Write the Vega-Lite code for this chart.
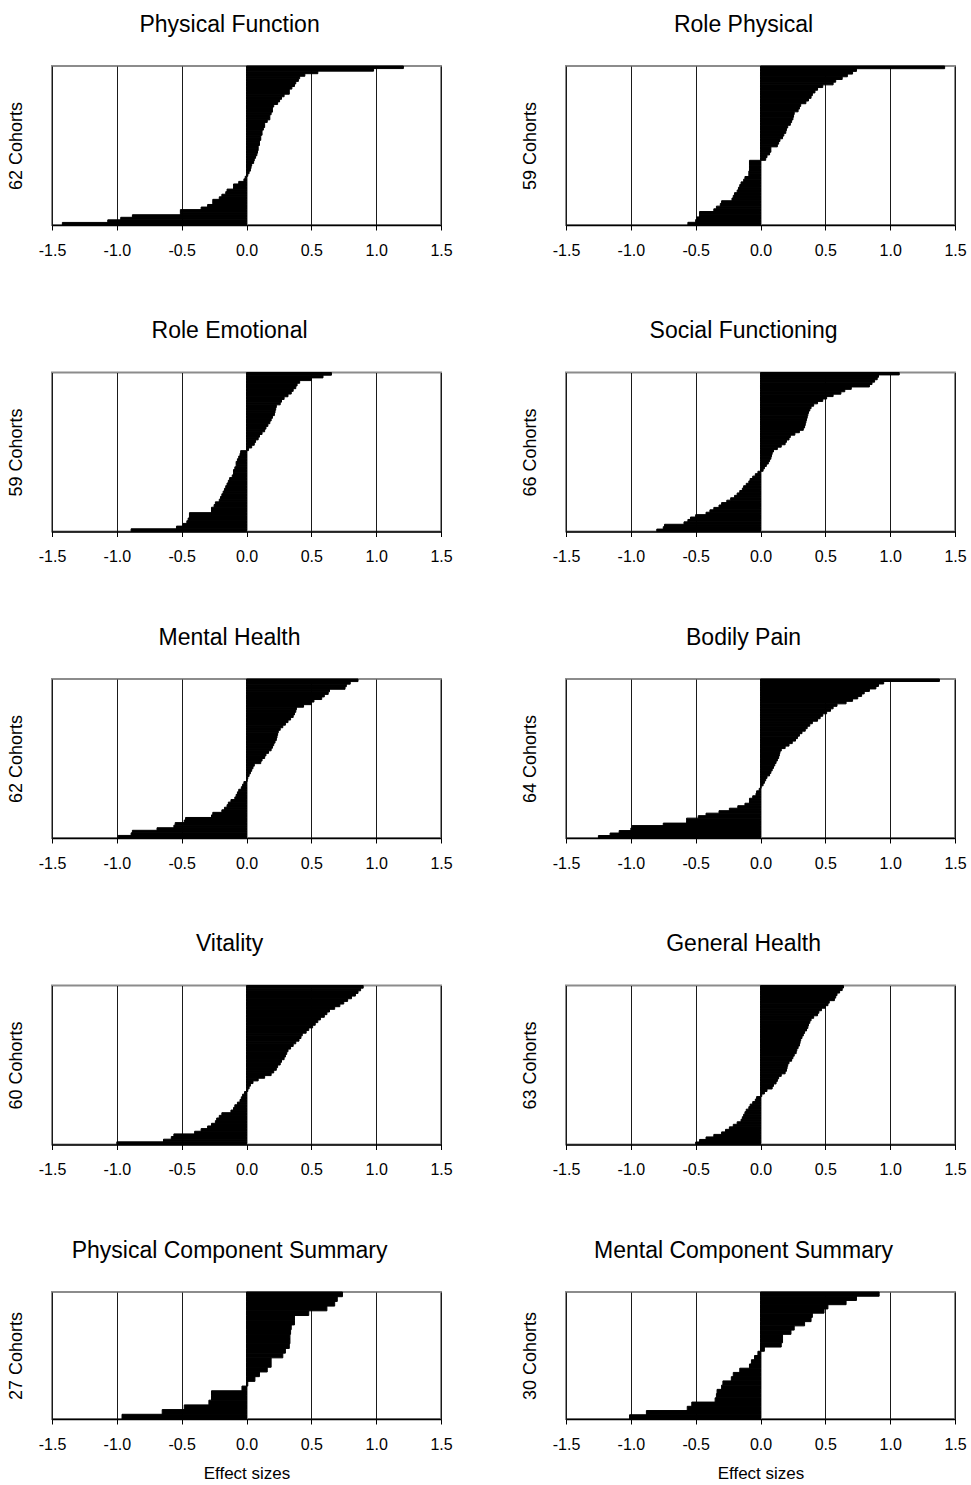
{
"$schema":"https://vega.github.io/schema/vega-lite/v6.json",
"background":"white",
"padding":{"left":6,"top":12,"right":5,"bottom":5},
"columns":2,
"bounds":"flush",
"spacing":{"row":147.5,"column":125},
"datasets":{"sf36":[
{"p":"PF","r":1,"v":-1.42},{"p":"PF","r":2,"v":-1.07},{"p":"PF","r":3,"v":-0.97},{"p":"PF","r":4,"v":-0.88},{"p":"PF","r":5,"v":-0.51},{"p":"PF","r":6,"v":-0.51},{"p":"PF","r":7,"v":-0.35},{"p":"PF","r":8,"v":-0.30},{"p":"PF","r":9,"v":-0.26},{"p":"PF","r":10,"v":-0.26},{"p":"PF","r":11,"v":-0.21},{"p":"PF","r":12,"v":-0.19},{"p":"PF","r":13,"v":-0.16},{"p":"PF","r":14,"v":-0.15},{"p":"PF","r":15,"v":-0.10},{"p":"PF","r":16,"v":-0.10},{"p":"PF","r":17,"v":-0.06},{"p":"PF","r":18,"v":-0.02},{"p":"PF","r":19,"v":-0.01},{"p":"PF","r":20,"v":0.01},{"p":"PF","r":21,"v":0.02},{"p":"PF","r":22,"v":0.03},{"p":"PF","r":23,"v":0.035},{"p":"PF","r":24,"v":0.04},{"p":"PF","r":25,"v":0.055},{"p":"PF","r":26,"v":0.06},{"p":"PF","r":27,"v":0.07},{"p":"PF","r":28,"v":0.08},{"p":"PF","r":29,"v":0.085},{"p":"PF","r":30,"v":0.09},{"p":"PF","r":31,"v":0.09},{"p":"PF","r":32,"v":0.10},{"p":"PF","r":33,"v":0.10},{"p":"PF","r":34,"v":0.11},{"p":"PF","r":35,"v":0.11},{"p":"PF","r":36,"v":0.12},{"p":"PF","r":37,"v":0.12},{"p":"PF","r":38,"v":0.13},{"p":"PF","r":39,"v":0.14},{"p":"PF","r":40,"v":0.14},{"p":"PF","r":41,"v":0.16},{"p":"PF","r":42,"v":0.18},{"p":"PF","r":43,"v":0.18},{"p":"PF","r":44,"v":0.19},{"p":"PF","r":45,"v":0.20},{"p":"PF","r":46,"v":0.20},{"p":"PF","r":47,"v":0.21},{"p":"PF","r":48,"v":0.24},{"p":"PF","r":49,"v":0.255},{"p":"PF","r":50,"v":0.27},{"p":"PF","r":51,"v":0.29},{"p":"PF","r":52,"v":0.33},{"p":"PF","r":53,"v":0.33},{"p":"PF","r":54,"v":0.35},{"p":"PF","r":55,"v":0.37},{"p":"PF","r":56,"v":0.38},{"p":"PF","r":57,"v":0.40},{"p":"PF","r":58,"v":0.41},{"p":"PF","r":59,"v":0.45},{"p":"PF","r":60,"v":0.55},{"p":"PF","r":61,"v":0.98},{"p":"PF","r":62,"v":1.21},
{"p":"RP","r":1,"v":-0.56},{"p":"RP","r":2,"v":-0.50},{"p":"RP","r":3,"v":-0.49},{"p":"RP","r":4,"v":-0.47},{"p":"RP","r":5,"v":-0.47},{"p":"RP","r":6,"v":-0.36},{"p":"RP","r":7,"v":-0.34},{"p":"RP","r":8,"v":-0.31},{"p":"RP","r":9,"v":-0.30},{"p":"RP","r":10,"v":-0.22},{"p":"RP","r":11,"v":-0.21},{"p":"RP","r":12,"v":-0.20},{"p":"RP","r":13,"v":-0.18},{"p":"RP","r":14,"v":-0.17},{"p":"RP","r":15,"v":-0.16},{"p":"RP","r":16,"v":-0.15},{"p":"RP","r":17,"v":-0.13},{"p":"RP","r":18,"v":-0.12},{"p":"RP","r":19,"v":-0.09},{"p":"RP","r":20,"v":-0.09},{"p":"RP","r":21,"v":-0.085},{"p":"RP","r":22,"v":-0.085},{"p":"RP","r":23,"v":-0.085},{"p":"RP","r":24,"v":-0.085},{"p":"RP","r":25,"v":0.04},{"p":"RP","r":26,"v":0.05},{"p":"RP","r":27,"v":0.07},{"p":"RP","r":28,"v":0.08},{"p":"RP","r":29,"v":0.08},{"p":"RP","r":30,"v":0.13},{"p":"RP","r":31,"v":0.14},{"p":"RP","r":32,"v":0.15},{"p":"RP","r":33,"v":0.17},{"p":"RP","r":34,"v":0.18},{"p":"RP","r":35,"v":0.195},{"p":"RP","r":36,"v":0.20},{"p":"RP","r":37,"v":0.21},{"p":"RP","r":38,"v":0.23},{"p":"RP","r":39,"v":0.24},{"p":"RP","r":40,"v":0.25},{"p":"RP","r":41,"v":0.255},{"p":"RP","r":42,"v":0.26},{"p":"RP","r":43,"v":0.29},{"p":"RP","r":44,"v":0.30},{"p":"RP","r":45,"v":0.31},{"p":"RP","r":46,"v":0.35},{"p":"RP","r":47,"v":0.37},{"p":"RP","r":48,"v":0.39},{"p":"RP","r":49,"v":0.40},{"p":"RP","r":50,"v":0.42},{"p":"RP","r":51,"v":0.44},{"p":"RP","r":52,"v":0.48},{"p":"RP","r":53,"v":0.56},{"p":"RP","r":54,"v":0.58},{"p":"RP","r":55,"v":0.63},{"p":"RP","r":56,"v":0.67},{"p":"RP","r":57,"v":0.71},{"p":"RP","r":58,"v":0.74},{"p":"RP","r":59,"v":1.42},
{"p":"RE","r":1,"v":-0.89},{"p":"RE","r":2,"v":-0.54},{"p":"RE","r":3,"v":-0.49},{"p":"RE","r":4,"v":-0.46},{"p":"RE","r":5,"v":-0.45},{"p":"RE","r":6,"v":-0.44},{"p":"RE","r":7,"v":-0.44},{"p":"RE","r":8,"v":-0.27},{"p":"RE","r":9,"v":-0.27},{"p":"RE","r":10,"v":-0.25},{"p":"RE","r":11,"v":-0.24},{"p":"RE","r":12,"v":-0.21},{"p":"RE","r":13,"v":-0.20},{"p":"RE","r":14,"v":-0.19},{"p":"RE","r":15,"v":-0.18},{"p":"RE","r":16,"v":-0.17},{"p":"RE","r":17,"v":-0.16},{"p":"RE","r":18,"v":-0.15},{"p":"RE","r":19,"v":-0.14},{"p":"RE","r":20,"v":-0.13},{"p":"RE","r":21,"v":-0.11},{"p":"RE","r":22,"v":-0.10},{"p":"RE","r":23,"v":-0.10},{"p":"RE","r":24,"v":-0.09},{"p":"RE","r":25,"v":-0.08},{"p":"RE","r":26,"v":-0.08},{"p":"RE","r":27,"v":-0.07},{"p":"RE","r":28,"v":-0.06},{"p":"RE","r":29,"v":-0.05},{"p":"RE","r":30,"v":-0.045},{"p":"RE","r":31,"v":0.015},{"p":"RE","r":32,"v":0.04},{"p":"RE","r":33,"v":0.06},{"p":"RE","r":34,"v":0.07},{"p":"RE","r":35,"v":0.09},{"p":"RE","r":36,"v":0.10},{"p":"RE","r":37,"v":0.12},{"p":"RE","r":38,"v":0.14},{"p":"RE","r":39,"v":0.15},{"p":"RE","r":40,"v":0.165},{"p":"RE","r":41,"v":0.18},{"p":"RE","r":42,"v":0.19},{"p":"RE","r":43,"v":0.20},{"p":"RE","r":44,"v":0.215},{"p":"RE","r":45,"v":0.22},{"p":"RE","r":46,"v":0.225},{"p":"RE","r":47,"v":0.23},{"p":"RE","r":48,"v":0.26},{"p":"RE","r":49,"v":0.27},{"p":"RE","r":50,"v":0.29},{"p":"RE","r":51,"v":0.32},{"p":"RE","r":52,"v":0.345},{"p":"RE","r":53,"v":0.36},{"p":"RE","r":54,"v":0.38},{"p":"RE","r":55,"v":0.39},{"p":"RE","r":56,"v":0.41},{"p":"RE","r":57,"v":0.50},{"p":"RE","r":58,"v":0.59},{"p":"RE","r":59,"v":0.655},
{"p":"SF","r":1,"v":-0.80},{"p":"SF","r":2,"v":-0.75},{"p":"SF","r":3,"v":-0.74},{"p":"SF","r":4,"v":-0.59},{"p":"SF","r":5,"v":-0.56},{"p":"SF","r":6,"v":-0.54},{"p":"SF","r":7,"v":-0.50},{"p":"SF","r":8,"v":-0.42},{"p":"SF","r":9,"v":-0.39},{"p":"SF","r":10,"v":-0.36},{"p":"SF","r":11,"v":-0.32},{"p":"SF","r":12,"v":-0.30},{"p":"SF","r":13,"v":-0.26},{"p":"SF","r":14,"v":-0.23},{"p":"SF","r":15,"v":-0.20},{"p":"SF","r":16,"v":-0.18},{"p":"SF","r":17,"v":-0.16},{"p":"SF","r":18,"v":-0.14},{"p":"SF","r":19,"v":-0.13},{"p":"SF","r":20,"v":-0.11},{"p":"SF","r":21,"v":-0.09},{"p":"SF","r":22,"v":-0.08},{"p":"SF","r":23,"v":-0.06},{"p":"SF","r":24,"v":-0.04},{"p":"SF","r":25,"v":-0.02},{"p":"SF","r":26,"v":0.02},{"p":"SF","r":27,"v":0.03},{"p":"SF","r":28,"v":0.045},{"p":"SF","r":29,"v":0.06},{"p":"SF","r":30,"v":0.07},{"p":"SF","r":31,"v":0.08},{"p":"SF","r":32,"v":0.085},{"p":"SF","r":33,"v":0.09},{"p":"SF","r":34,"v":0.10},{"p":"SF","r":35,"v":0.13},{"p":"SF","r":36,"v":0.16},{"p":"SF","r":37,"v":0.19},{"p":"SF","r":38,"v":0.20},{"p":"SF","r":39,"v":0.22},{"p":"SF","r":40,"v":0.23},{"p":"SF","r":41,"v":0.265},{"p":"SF","r":42,"v":0.30},{"p":"SF","r":43,"v":0.33},{"p":"SF","r":44,"v":0.34},{"p":"SF","r":45,"v":0.345},{"p":"SF","r":46,"v":0.35},{"p":"SF","r":47,"v":0.355},{"p":"SF","r":48,"v":0.36},{"p":"SF","r":49,"v":0.365},{"p":"SF","r":50,"v":0.37},{"p":"SF","r":51,"v":0.38},{"p":"SF","r":52,"v":0.39},{"p":"SF","r":53,"v":0.41},{"p":"SF","r":54,"v":0.44},{"p":"SF","r":55,"v":0.48},{"p":"SF","r":56,"v":0.51},{"p":"SF","r":57,"v":0.56},{"p":"SF","r":58,"v":0.62},{"p":"SF","r":59,"v":0.65},{"p":"SF","r":60,"v":0.70},{"p":"SF","r":61,"v":0.84},{"p":"SF","r":62,"v":0.86},{"p":"SF","r":63,"v":0.88},{"p":"SF","r":64,"v":0.90},{"p":"SF","r":65,"v":0.91},{"p":"SF","r":66,"v":1.07},
{"p":"MH","r":1,"v":-0.99},{"p":"MH","r":2,"v":-0.89},{"p":"MH","r":3,"v":-0.88},{"p":"MH","r":4,"v":-0.69},{"p":"MH","r":5,"v":-0.56},{"p":"MH","r":6,"v":-0.55},{"p":"MH","r":7,"v":-0.48},{"p":"MH","r":8,"v":-0.47},{"p":"MH","r":9,"v":-0.27},{"p":"MH","r":10,"v":-0.26},{"p":"MH","r":11,"v":-0.19},{"p":"MH","r":12,"v":-0.17},{"p":"MH","r":13,"v":-0.15},{"p":"MH","r":14,"v":-0.14},{"p":"MH","r":15,"v":-0.12},{"p":"MH","r":16,"v":-0.09},{"p":"MH","r":17,"v":-0.08},{"p":"MH","r":18,"v":-0.07},{"p":"MH","r":19,"v":-0.06},{"p":"MH","r":20,"v":-0.04},{"p":"MH","r":21,"v":-0.03},{"p":"MH","r":22,"v":-0.02},{"p":"MH","r":23,"v":0.005},{"p":"MH","r":24,"v":0.01},{"p":"MH","r":25,"v":0.02},{"p":"MH","r":26,"v":0.03},{"p":"MH","r":27,"v":0.04},{"p":"MH","r":28,"v":0.05},{"p":"MH","r":29,"v":0.06},{"p":"MH","r":30,"v":0.11},{"p":"MH","r":31,"v":0.12},{"p":"MH","r":32,"v":0.14},{"p":"MH","r":33,"v":0.15},{"p":"MH","r":34,"v":0.17},{"p":"MH","r":35,"v":0.19},{"p":"MH","r":36,"v":0.20},{"p":"MH","r":37,"v":0.21},{"p":"MH","r":38,"v":0.22},{"p":"MH","r":39,"v":0.23},{"p":"MH","r":40,"v":0.235},{"p":"MH","r":41,"v":0.24},{"p":"MH","r":42,"v":0.245},{"p":"MH","r":43,"v":0.26},{"p":"MH","r":44,"v":0.28},{"p":"MH","r":45,"v":0.30},{"p":"MH","r":46,"v":0.32},{"p":"MH","r":47,"v":0.34},{"p":"MH","r":48,"v":0.36},{"p":"MH","r":49,"v":0.37},{"p":"MH","r":50,"v":0.38},{"p":"MH","r":51,"v":0.385},{"p":"MH","r":52,"v":0.44},{"p":"MH","r":53,"v":0.50},{"p":"MH","r":54,"v":0.52},{"p":"MH","r":55,"v":0.58},{"p":"MH","r":56,"v":0.60},{"p":"MH","r":57,"v":0.63},{"p":"MH","r":58,"v":0.64},{"p":"MH","r":59,"v":0.76},{"p":"MH","r":60,"v":0.77},{"p":"MH","r":61,"v":0.80},{"p":"MH","r":62,"v":0.86},
{"p":"BP","r":1,"v":-1.25},{"p":"BP","r":2,"v":-1.16},{"p":"BP","r":3,"v":-1.09},{"p":"BP","r":4,"v":-1.00},{"p":"BP","r":5,"v":-0.99},{"p":"BP","r":6,"v":-0.75},{"p":"BP","r":7,"v":-0.57},{"p":"BP","r":8,"v":-0.57},{"p":"BP","r":9,"v":-0.48},{"p":"BP","r":10,"v":-0.42},{"p":"BP","r":11,"v":-0.32},{"p":"BP","r":12,"v":-0.24},{"p":"BP","r":13,"v":-0.175},{"p":"BP","r":14,"v":-0.12},{"p":"BP","r":15,"v":-0.085},{"p":"BP","r":16,"v":-0.085},{"p":"BP","r":17,"v":-0.06},{"p":"BP","r":18,"v":-0.035},{"p":"BP","r":19,"v":-0.03},{"p":"BP","r":20,"v":-0.01},{"p":"BP","r":21,"v":0.005},{"p":"BP","r":22,"v":0.02},{"p":"BP","r":23,"v":0.03},{"p":"BP","r":24,"v":0.04},{"p":"BP","r":25,"v":0.05},{"p":"BP","r":26,"v":0.07},{"p":"BP","r":27,"v":0.08},{"p":"BP","r":28,"v":0.09},{"p":"BP","r":29,"v":0.10},{"p":"BP","r":30,"v":0.11},{"p":"BP","r":31,"v":0.12},{"p":"BP","r":32,"v":0.13},{"p":"BP","r":33,"v":0.14},{"p":"BP","r":34,"v":0.145},{"p":"BP","r":35,"v":0.15},{"p":"BP","r":36,"v":0.16},{"p":"BP","r":37,"v":0.19},{"p":"BP","r":38,"v":0.22},{"p":"BP","r":39,"v":0.245},{"p":"BP","r":40,"v":0.27},{"p":"BP","r":41,"v":0.285},{"p":"BP","r":42,"v":0.30},{"p":"BP","r":43,"v":0.32},{"p":"BP","r":44,"v":0.345},{"p":"BP","r":45,"v":0.36},{"p":"BP","r":46,"v":0.38},{"p":"BP","r":47,"v":0.40},{"p":"BP","r":48,"v":0.44},{"p":"BP","r":49,"v":0.46},{"p":"BP","r":50,"v":0.48},{"p":"BP","r":51,"v":0.51},{"p":"BP","r":52,"v":0.54},{"p":"BP","r":53,"v":0.56},{"p":"BP","r":54,"v":0.59},{"p":"BP","r":55,"v":0.66},{"p":"BP","r":56,"v":0.71},{"p":"BP","r":57,"v":0.75},{"p":"BP","r":58,"v":0.78},{"p":"BP","r":59,"v":0.80},{"p":"BP","r":60,"v":0.84},{"p":"BP","r":61,"v":0.89},{"p":"BP","r":62,"v":0.91},{"p":"BP","r":63,"v":0.95},{"p":"BP","r":64,"v":1.38},
{"p":"VT","r":1,"v":-1.00},{"p":"VT","r":2,"v":-0.64},{"p":"VT","r":3,"v":-0.58},{"p":"VT","r":4,"v":-0.56},{"p":"VT","r":5,"v":-0.40},{"p":"VT","r":6,"v":-0.35},{"p":"VT","r":7,"v":-0.30},{"p":"VT","r":8,"v":-0.27},{"p":"VT","r":9,"v":-0.24},{"p":"VT","r":10,"v":-0.23},{"p":"VT","r":11,"v":-0.21},{"p":"VT","r":12,"v":-0.19},{"p":"VT","r":13,"v":-0.12},{"p":"VT","r":14,"v":-0.10},{"p":"VT","r":15,"v":-0.09},{"p":"VT","r":16,"v":-0.07},{"p":"VT","r":17,"v":-0.05},{"p":"VT","r":18,"v":-0.04},{"p":"VT","r":19,"v":-0.03},{"p":"VT","r":20,"v":-0.015},{"p":"VT","r":21,"v":0.01},{"p":"VT","r":22,"v":0.02},{"p":"VT","r":23,"v":0.03},{"p":"VT","r":24,"v":0.05},{"p":"VT","r":25,"v":0.09},{"p":"VT","r":26,"v":0.14},{"p":"VT","r":27,"v":0.19},{"p":"VT","r":28,"v":0.21},{"p":"VT","r":29,"v":0.23},{"p":"VT","r":30,"v":0.24},{"p":"VT","r":31,"v":0.26},{"p":"VT","r":32,"v":0.27},{"p":"VT","r":33,"v":0.29},{"p":"VT","r":34,"v":0.30},{"p":"VT","r":35,"v":0.31},{"p":"VT","r":36,"v":0.32},{"p":"VT","r":37,"v":0.34},{"p":"VT","r":38,"v":0.36},{"p":"VT","r":39,"v":0.38},{"p":"VT","r":40,"v":0.405},{"p":"VT","r":41,"v":0.42},{"p":"VT","r":42,"v":0.43},{"p":"VT","r":43,"v":0.46},{"p":"VT","r":44,"v":0.48},{"p":"VT","r":45,"v":0.51},{"p":"VT","r":46,"v":0.53},{"p":"VT","r":47,"v":0.55},{"p":"VT","r":48,"v":0.57},{"p":"VT","r":49,"v":0.60},{"p":"VT","r":50,"v":0.62},{"p":"VT","r":51,"v":0.64},{"p":"VT","r":52,"v":0.68},{"p":"VT","r":53,"v":0.72},{"p":"VT","r":54,"v":0.75},{"p":"VT","r":55,"v":0.78},{"p":"VT","r":56,"v":0.81},{"p":"VT","r":57,"v":0.84},{"p":"VT","r":58,"v":0.86},{"p":"VT","r":59,"v":0.88},{"p":"VT","r":60,"v":0.90},
{"p":"GH","r":1,"v":-0.50},{"p":"GH","r":2,"v":-0.47},{"p":"GH","r":3,"v":-0.42},{"p":"GH","r":4,"v":-0.36},{"p":"GH","r":5,"v":-0.30},{"p":"GH","r":6,"v":-0.27},{"p":"GH","r":7,"v":-0.24},{"p":"GH","r":8,"v":-0.21},{"p":"GH","r":9,"v":-0.18},{"p":"GH","r":10,"v":-0.15},{"p":"GH","r":11,"v":-0.14},{"p":"GH","r":12,"v":-0.13},{"p":"GH","r":13,"v":-0.12},{"p":"GH","r":14,"v":-0.11},{"p":"GH","r":15,"v":-0.09},{"p":"GH","r":16,"v":-0.08},{"p":"GH","r":17,"v":-0.06},{"p":"GH","r":18,"v":-0.04},{"p":"GH","r":19,"v":-0.03},{"p":"GH","r":20,"v":0.01},{"p":"GH","r":21,"v":0.03},{"p":"GH","r":22,"v":0.05},{"p":"GH","r":23,"v":0.09},{"p":"GH","r":24,"v":0.10},{"p":"GH","r":25,"v":0.12},{"p":"GH","r":26,"v":0.13},{"p":"GH","r":27,"v":0.14},{"p":"GH","r":28,"v":0.16},{"p":"GH","r":29,"v":0.19},{"p":"GH","r":30,"v":0.20},{"p":"GH","r":31,"v":0.205},{"p":"GH","r":32,"v":0.21},{"p":"GH","r":33,"v":0.22},{"p":"GH","r":34,"v":0.24},{"p":"GH","r":35,"v":0.25},{"p":"GH","r":36,"v":0.26},{"p":"GH","r":37,"v":0.275},{"p":"GH","r":38,"v":0.28},{"p":"GH","r":39,"v":0.29},{"p":"GH","r":40,"v":0.30},{"p":"GH","r":41,"v":0.305},{"p":"GH","r":42,"v":0.31},{"p":"GH","r":43,"v":0.32},{"p":"GH","r":44,"v":0.33},{"p":"GH","r":45,"v":0.34},{"p":"GH","r":46,"v":0.355},{"p":"GH","r":47,"v":0.365},{"p":"GH","r":48,"v":0.37},{"p":"GH","r":49,"v":0.38},{"p":"GH","r":50,"v":0.39},{"p":"GH","r":51,"v":0.41},{"p":"GH","r":52,"v":0.44},{"p":"GH","r":53,"v":0.45},{"p":"GH","r":54,"v":0.47},{"p":"GH","r":55,"v":0.50},{"p":"GH","r":56,"v":0.52},{"p":"GH","r":57,"v":0.53},{"p":"GH","r":58,"v":0.57},{"p":"GH","r":59,"v":0.58},{"p":"GH","r":60,"v":0.59},{"p":"GH","r":61,"v":0.61},{"p":"GH","r":62,"v":0.63},{"p":"GH","r":63,"v":0.64},
{"p":"PCS","r":1,"v":-0.96},{"p":"PCS","r":2,"v":-0.65},{"p":"PCS","r":3,"v":-0.48},{"p":"PCS","r":4,"v":-0.29},{"p":"PCS","r":5,"v":-0.27},{"p":"PCS","r":6,"v":-0.27},{"p":"PCS","r":7,"v":-0.035},{"p":"PCS","r":8,"v":0.01},{"p":"PCS","r":9,"v":0.065},{"p":"PCS","r":10,"v":0.10},{"p":"PCS","r":11,"v":0.16},{"p":"PCS","r":12,"v":0.19},{"p":"PCS","r":13,"v":0.19},{"p":"PCS","r":14,"v":0.28},{"p":"PCS","r":15,"v":0.30},{"p":"PCS","r":16,"v":0.33},{"p":"PCS","r":17,"v":0.335},{"p":"PCS","r":18,"v":0.335},{"p":"PCS","r":19,"v":0.34},{"p":"PCS","r":20,"v":0.345},{"p":"PCS","r":21,"v":0.37},{"p":"PCS","r":22,"v":0.37},{"p":"PCS","r":23,"v":0.48},{"p":"PCS","r":24,"v":0.62},{"p":"PCS","r":25,"v":0.68},{"p":"PCS","r":26,"v":0.70},{"p":"PCS","r":27,"v":0.74},
{"p":"MCS","r":1,"v":-1.01},{"p":"MCS","r":2,"v":-0.88},{"p":"MCS","r":3,"v":-0.565},{"p":"MCS","r":4,"v":-0.53},{"p":"MCS","r":5,"v":-0.35},{"p":"MCS","r":6,"v":-0.34},{"p":"MCS","r":7,"v":-0.335},{"p":"MCS","r":8,"v":-0.30},{"p":"MCS","r":9,"v":-0.29},{"p":"MCS","r":10,"v":-0.225},{"p":"MCS","r":11,"v":-0.21},{"p":"MCS","r":12,"v":-0.16},{"p":"MCS","r":13,"v":-0.085},{"p":"MCS","r":14,"v":-0.07},{"p":"MCS","r":15,"v":-0.046},{"p":"MCS","r":16,"v":-0.02},{"p":"MCS","r":17,"v":0.03},{"p":"MCS","r":18,"v":0.16},{"p":"MCS","r":19,"v":0.17},{"p":"MCS","r":20,"v":0.17},{"p":"MCS","r":21,"v":0.235},{"p":"MCS","r":22,"v":0.26},{"p":"MCS","r":23,"v":0.34},{"p":"MCS","r":24,"v":0.39},{"p":"MCS","r":25,"v":0.40},{"p":"MCS","r":26,"v":0.49},{"p":"MCS","r":27,"v":0.52},{"p":"MCS","r":28,"v":0.66},{"p":"MCS","r":29,"v":0.74},{"p":"MCS","r":30,"v":0.915}
]},
"data":{"name":"sf36"},
"concat":[
{"title":"Physical Function","width":389,"height":159,"transform":[{"filter":"datum.p==='PF'"}],"mark":{"type":"bar","color":"#000","stroke":"#000","strokeWidth":1},"encoding":{"y":{"field":"r","type":"ordinal","sort":"descending","scale":{"paddingInner":0,"paddingOuter":0},"axis":{"title":"62 Cohorts"}},"x":{"field":"v","type":"quantitative","scale":{"domain":[-1.5,1.5]},"axis":{"title":null,"values":[-1.5,-1,-0.5,0,0.5,1,1.5],"gridColor":{"condition":{"test":"datum.value===0","value":"#999999"},"value":"#1a1a1a"}}},"x2":{"datum":0}}},
{"title":"Role Physical","width":389,"height":159,"transform":[{"filter":"datum.p==='RP'"}],"mark":{"type":"bar","color":"#000","stroke":"#000","strokeWidth":1},"encoding":{"y":{"field":"r","type":"ordinal","sort":"descending","scale":{"paddingInner":0,"paddingOuter":0},"axis":{"title":"59 Cohorts"}},"x":{"field":"v","type":"quantitative","scale":{"domain":[-1.5,1.5]},"axis":{"title":null,"values":[-1.5,-1,-0.5,0,0.5,1,1.5],"gridColor":{"condition":{"test":"datum.value===0","value":"#999999"},"value":"#1a1a1a"}}},"x2":{"datum":0}}},
{"title":"Role Emotional","width":389,"height":159,"transform":[{"filter":"datum.p==='RE'"}],"mark":{"type":"bar","color":"#000","stroke":"#000","strokeWidth":1},"encoding":{"y":{"field":"r","type":"ordinal","sort":"descending","scale":{"paddingInner":0,"paddingOuter":0},"axis":{"title":"59 Cohorts"}},"x":{"field":"v","type":"quantitative","scale":{"domain":[-1.5,1.5]},"axis":{"title":null,"values":[-1.5,-1,-0.5,0,0.5,1,1.5],"gridColor":{"condition":{"test":"datum.value===0","value":"#999999"},"value":"#1a1a1a"}}},"x2":{"datum":0}}},
{"title":"Social Functioning","width":389,"height":159,"transform":[{"filter":"datum.p==='SF'"}],"mark":{"type":"bar","color":"#000","stroke":"#000","strokeWidth":1},"encoding":{"y":{"field":"r","type":"ordinal","sort":"descending","scale":{"paddingInner":0,"paddingOuter":0},"axis":{"title":"66 Cohorts"}},"x":{"field":"v","type":"quantitative","scale":{"domain":[-1.5,1.5]},"axis":{"title":null,"values":[-1.5,-1,-0.5,0,0.5,1,1.5],"gridColor":{"condition":{"test":"datum.value===0","value":"#999999"},"value":"#1a1a1a"}}},"x2":{"datum":0}}},
{"title":"Mental Health","width":389,"height":159,"transform":[{"filter":"datum.p==='MH'"}],"mark":{"type":"bar","color":"#000","stroke":"#000","strokeWidth":1},"encoding":{"y":{"field":"r","type":"ordinal","sort":"descending","scale":{"paddingInner":0,"paddingOuter":0},"axis":{"title":"62 Cohorts"}},"x":{"field":"v","type":"quantitative","scale":{"domain":[-1.5,1.5]},"axis":{"title":null,"values":[-1.5,-1,-0.5,0,0.5,1,1.5],"gridColor":{"condition":{"test":"datum.value===0","value":"#999999"},"value":"#1a1a1a"}}},"x2":{"datum":0}}},
{"title":"Bodily Pain","width":389,"height":159,"transform":[{"filter":"datum.p==='BP'"}],"mark":{"type":"bar","color":"#000","stroke":"#000","strokeWidth":1},"encoding":{"y":{"field":"r","type":"ordinal","sort":"descending","scale":{"paddingInner":0,"paddingOuter":0},"axis":{"title":"64 Cohorts"}},"x":{"field":"v","type":"quantitative","scale":{"domain":[-1.5,1.5]},"axis":{"title":null,"values":[-1.5,-1,-0.5,0,0.5,1,1.5],"gridColor":{"condition":{"test":"datum.value===0","value":"#999999"},"value":"#1a1a1a"}}},"x2":{"datum":0}}},
{"title":"Vitality","width":389,"height":159,"transform":[{"filter":"datum.p==='VT'"}],"mark":{"type":"bar","color":"#000","stroke":"#000","strokeWidth":1},"encoding":{"y":{"field":"r","type":"ordinal","sort":"descending","scale":{"paddingInner":0,"paddingOuter":0},"axis":{"title":"60 Cohorts"}},"x":{"field":"v","type":"quantitative","scale":{"domain":[-1.5,1.5]},"axis":{"title":null,"values":[-1.5,-1,-0.5,0,0.5,1,1.5],"gridColor":{"condition":{"test":"datum.value===0","value":"#999999"},"value":"#1a1a1a"}}},"x2":{"datum":0}}},
{"title":"General Health","width":389,"height":159,"transform":[{"filter":"datum.p==='GH'"}],"mark":{"type":"bar","color":"#000","stroke":"#000","strokeWidth":1},"encoding":{"y":{"field":"r","type":"ordinal","sort":"descending","scale":{"paddingInner":0,"paddingOuter":0},"axis":{"title":"63 Cohorts"}},"x":{"field":"v","type":"quantitative","scale":{"domain":[-1.5,1.5]},"axis":{"title":null,"values":[-1.5,-1,-0.5,0,0.5,1,1.5],"gridColor":{"condition":{"test":"datum.value===0","value":"#999999"},"value":"#1a1a1a"}}},"x2":{"datum":0}}},
{"title":"Physical Component Summary","width":389,"height":127,"transform":[{"filter":"datum.p==='PCS'"}],"mark":{"type":"bar","color":"#000","stroke":"#000","strokeWidth":1},"encoding":{"y":{"field":"r","type":"ordinal","sort":"descending","scale":{"paddingInner":0,"paddingOuter":0},"axis":{"title":"27 Cohorts"}},"x":{"field":"v","type":"quantitative","scale":{"domain":[-1.5,1.5]},"axis":{"title":"Effect sizes","values":[-1.5,-1,-0.5,0,0.5,1,1.5],"gridColor":{"condition":{"test":"datum.value===0","value":"#999999"},"value":"#1a1a1a"}}},"x2":{"datum":0}}},
{"title":"Mental Component Summary","width":389,"height":127,"transform":[{"filter":"datum.p==='MCS'"}],"mark":{"type":"bar","color":"#000","stroke":"#000","strokeWidth":1},"encoding":{"y":{"field":"r","type":"ordinal","sort":"descending","scale":{"paddingInner":0,"paddingOuter":0},"axis":{"title":"30 Cohorts"}},"x":{"field":"v","type":"quantitative","scale":{"domain":[-1.5,1.5]},"axis":{"title":"Effect sizes","values":[-1.5,-1,-0.5,0,0.5,1,1.5],"gridColor":{"condition":{"test":"datum.value===0","value":"#999999"},"value":"#1a1a1a"}}},"x2":{"datum":0}}}
],
"config":{
"font":"Liberation Sans",
"view":{"stroke":"#8c8c8c","strokeWidth":2},
"title":{"fontSize":23,"fontWeight":"normal","color":"#000","offset":29,"frame":"bounds","anchor":"middle"},
"axisX":{"grid":true,"gridWidth":1,"gridOpacity":1,"domainColor":"#000","domainWidth":1.5,"tickColor":"#000","tickSize":5,"tickWidth":1,"labelFontSize":16,"labelColor":"#000","labelPadding":12,"labelFlush":false,"labelExpr":"(datum.value < 0 ? '-' : '') + format(abs(datum.value), '.1f')","titleFontSize":17,"titleFontWeight":"normal","titleColor":"#000","titlePadding":13},
"axisY":{"labels":false,"ticks":false,"domain":false,"grid":false,"titleFontSize":18,"titleFontWeight":"normal","titleColor":"#000","titlePadding":27}
}
}
